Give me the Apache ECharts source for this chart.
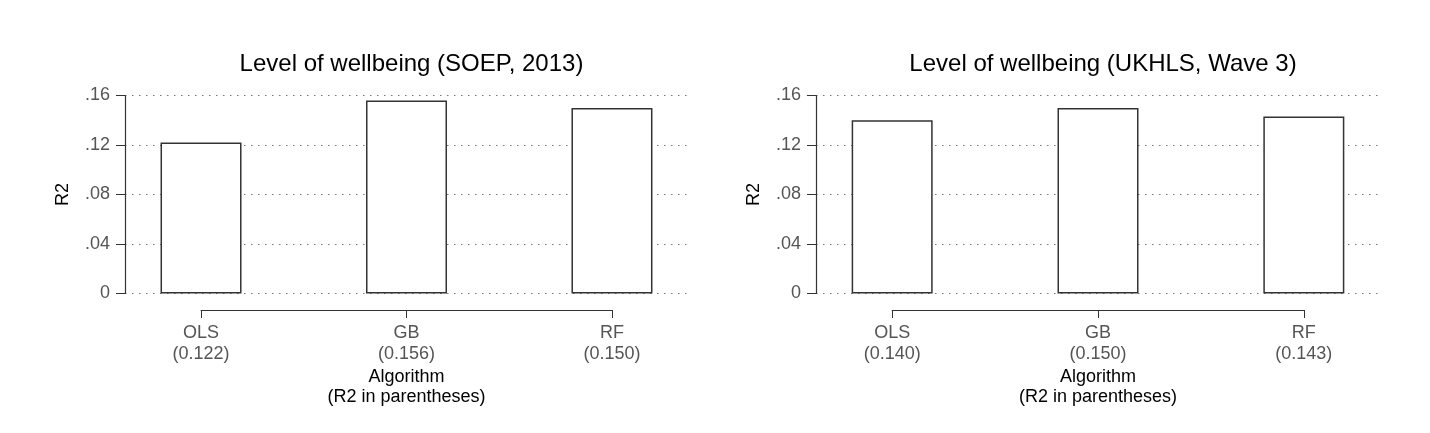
<!DOCTYPE html>
<html>
<head>
<meta charset="utf-8">
<script src="https://cdn.jsdelivr.net/npm/echarts@6/dist/echarts.min.js"></script>
<style>
  html, body { margin: 0; padding: 0; background: #fff; }
  #chart { width: 1430px; height: 433px; }
</style>
</head>
<body>
<div id="chart"></div>
<script>
// data
var algos = ['OLS', 'GB', 'RF'];
var soepR2 = [0.122, 0.156, 0.150];
var ukhlsR2 = [0.140, 0.150, 0.143];
var titles = ['Level of wellbeing (SOEP, 2013)', 'Level of wellbeing (UKHLS, Wave 3)'];
var yTicks = [0, 0.04, 0.08, 0.12, 0.16];

var chart = echarts.init(document.getElementById('chart'), null, { renderer: 'canvas' });

var font = 'Liberation Sans, Arial, Helvetica, sans-serif';
var axisColor = '#333';
var labelColor = '#555';

// panel layout (left edge of plot area)
var panels = [
  { left: 125, width: 563, vals: soepR2, title: titles[0] },
  { left: 816, width: 564, vals: ukhlsR2, title: titles[1] }
];

var grids = [], xAxes = [], yAxes = [], series = [], titleArr = [];

panels.forEach(function (p, i) {
  var unit = p.width / 2.74;
  // plot area
  grids.push({ left: p.left, top: 95.5, width: p.width, height: 198 });
  // bottom axis strip, spans first to last category centre
  grids.push({
    left: p.left + 0.37 * unit,
    top: 300,
    width: 2 * unit,
    height: 10
  });
  var gMain = i * 2, gAxis = i * 2 + 1;

  xAxes.push({
    gridIndex: gMain, type: 'value', min: 0.63, max: 3.37,
    show: false, splitLine: { show: false }
  });
  xAxes.push({
    gridIndex: gAxis, type: 'category', data: algos, boundaryGap: false,
    position: 'bottom',
    axisLine: { lineStyle: { color: axisColor, width: 1 } },
    axisTick: { length: 8, lineStyle: { color: axisColor } },
    axisLabel: {
      color: labelColor, fontSize: 18, fontFamily: font, lineHeight: 21, margin: 13,
      formatter: function (v, idx) { return v + '\n(' + p.vals[idx].toFixed(3) + ')'; }
    },
    name: 'Algorithm\n(R2 in parentheses)', nameLocation: 'middle', nameGap: 57,
    nameTextStyle: { color: '#000', fontSize: 18, fontFamily: font, lineHeight: 20 }
  });

  yAxes.push({
    gridIndex: gMain, type: 'value', min: yTicks[0], max: yTicks[yTicks.length - 1], interval: 0.04,
    axisLine: { show: true, lineStyle: { color: axisColor, width: 1.2 } },
    axisTick: { show: true, length: 9, lineStyle: { color: axisColor } },
    axisLabel: {
      color: labelColor, fontSize: 18, fontFamily: font, margin: 15,
      formatter: function (v) { return v === 0 ? '0' : v.toFixed(2).replace(/^0/, ''); }
    },
    splitLine: { show: true, lineStyle: { color: '#777', type: [1.5, 5.5], width: 1 } },
    name: 'R2', nameLocation: 'middle', nameGap: 53,
    nameTextStyle: { color: '#000', fontSize: 18, fontFamily: font }
  });
  yAxes.push({ gridIndex: gAxis, type: 'value', show: false, splitLine: { show: false } });

  series.push({
    type: 'bar', xAxisIndex: gMain, yAxisIndex: gMain, barWidth: 81,
    data: p.vals.map(function (v, k) { return [k + 1, v]; }),
    itemStyle: { color: '#fff', borderColor: '#333', borderWidth: 1.5 },
    silent: true, z: 1
  });

  titleArr.push({
    text: p.title, left: p.left + p.width / 2, top: 47, textAlign: 'center',
    textStyle: { color: '#000', fontSize: 24, fontWeight: 'normal', fontFamily: font }
  });
});

chart.setOption({
  backgroundColor: '#fff',
  animation: false,
  title: titleArr,
  grid: grids,
  xAxis: xAxes,
  yAxis: yAxes,
  series: series
});
</script>
</body>
</html>
